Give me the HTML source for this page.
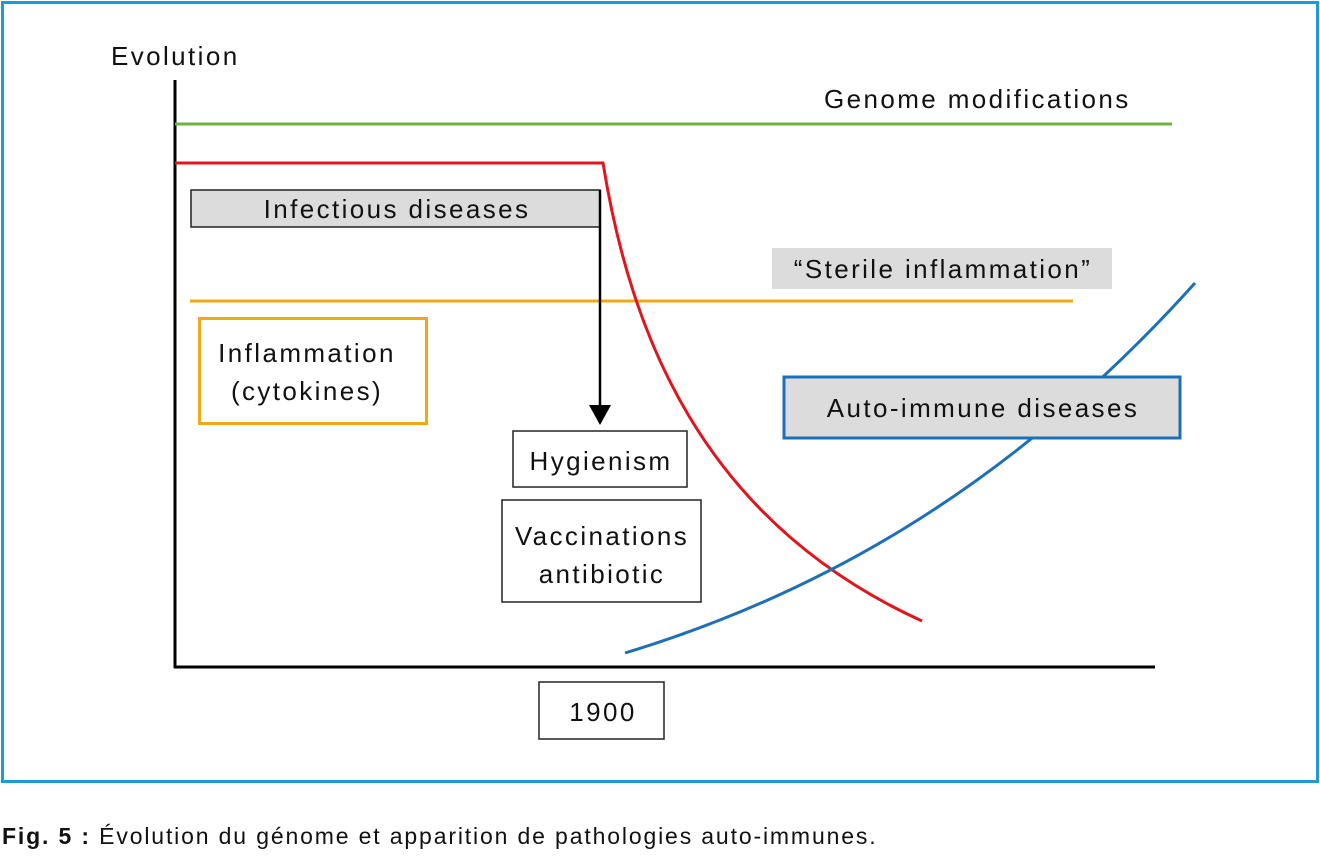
<!DOCTYPE html>
<html><head><meta charset="utf-8"><style>
html,body{margin:0;padding:0;background:#fff;}
body{width:1320px;height:851px;overflow:hidden;}
svg text{font-family:"Liberation Sans",sans-serif;font-size:26px;letter-spacing:2.4px;fill:#111;}
</style></head><body>
<svg width="1320" height="851" viewBox="0 0 1320 851" xmlns="http://www.w3.org/2000/svg">
<rect x="2.5" y="2.5" width="1315" height="779" fill="#fff" stroke="#1a9ad6" stroke-width="3"/>
<text x="111" y="65">Evolution</text>
<line x1="175" y1="80" x2="175" y2="668" stroke="#000" stroke-width="3"/>
<line x1="174" y1="667" x2="1155" y2="667" stroke="#000" stroke-width="3"/>
<line x1="175" y1="124" x2="1172" y2="124" stroke="#6db33f" stroke-width="3"/>
<text x="824" y="108">Genome modifications</text>
<line x1="190" y1="301" x2="1073" y2="301" stroke="#f0a818" stroke-width="3"/>
<rect x="772" y="248" width="340" height="41" fill="#dcdcdc"/>
<text x="943" y="278" text-anchor="middle">“Sterile inflammation”</text>
<rect x="191" y="190" width="409" height="37" fill="#dcdcdc" stroke="#222" stroke-width="1.5"/>
<text x="397" y="218" text-anchor="middle">Infectious diseases</text>
<path d="M175 163 L603 163 C630 330 700 520 922 621" fill="none" stroke="#e0161f" stroke-width="3"/>
<line x1="600" y1="190" x2="600" y2="408" stroke="#000" stroke-width="2.5"/>
<polygon points="589,405 611,405 600,425" fill="#000"/>
<path d="M625 653 C800 600 1000 500 1195 283" fill="none" stroke="#1d6fb8" stroke-width="3"/>
<rect x="199.5" y="318.5" width="227" height="105" fill="#fff" stroke="#f0a818" stroke-width="3"/>
<text x="307" y="362" text-anchor="middle">Inflammation</text>
<text x="307" y="400" text-anchor="middle">(cytokines)</text>
<rect x="784" y="377" width="396" height="61" fill="#dcdcdc" stroke="#1d6fb8" stroke-width="3"/>
<text x="983" y="417" text-anchor="middle">Auto-immune diseases</text>
<rect x="513" y="431" width="174" height="56" fill="#fff" stroke="#222" stroke-width="1.5"/>
<text x="601" y="470" text-anchor="middle">Hygienism</text>
<rect x="502" y="500" width="199" height="102" fill="#fff" stroke="#222" stroke-width="1.5"/>
<text x="602" y="545" text-anchor="middle">Vaccinations</text>
<text x="602" y="583" text-anchor="middle">antibiotic</text>
<rect x="539" y="682" width="125" height="57" fill="#fff" stroke="#222" stroke-width="1.5"/>
<text x="603" y="721" text-anchor="middle">1900</text>
<text x="2" y="844" style="font-size:23px;letter-spacing:1.85px"><tspan font-weight="bold">Fig. 5 :</tspan> Évolution du génome et apparition de pathologies auto-immunes.</text>
</svg>
</body></html>
